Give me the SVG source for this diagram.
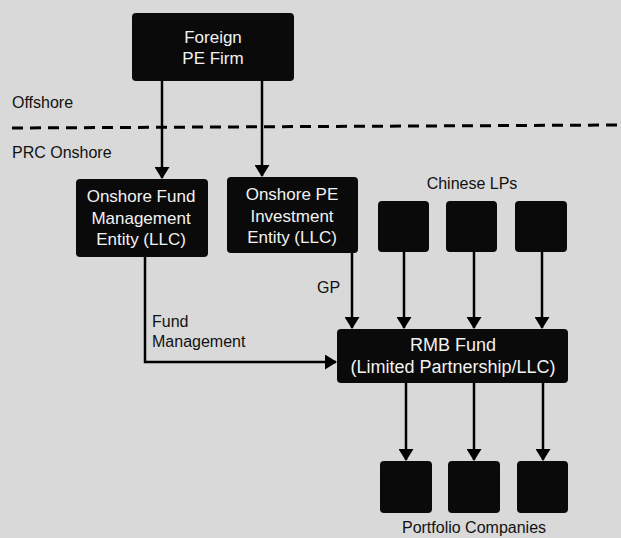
<svg xmlns="http://www.w3.org/2000/svg" width="621" height="538" viewBox="0 0 621 538">
<style>
.box{fill:#0a0a0a;rx:4;ry:4}
.wt{fill:#f2f2f2;font-family:"Liberation Sans",Arial,sans-serif;font-size:17px;text-anchor:middle}
.bt{fill:#111;font-family:"Liberation Sans",Arial,sans-serif;font-size:16px}
.ln{stroke:#000;stroke-width:2.5;fill:none}
</style>
<defs>
<marker id="ah" markerWidth="12" markerHeight="15" refX="11" refY="7.5" orient="auto" markerUnits="userSpaceOnUse">
<path d="M0,0 L12,7.5 L0,15 Z" fill="#000"/>
</marker>
</defs>
<rect width="621" height="538" fill="#d9d9d9"/>
<text class="bt" x="12" y="108">Offshore</text>
<text class="bt" x="12" y="158">PRC Onshore</text>
<line x1="12" y1="128" x2="621" y2="125" stroke="#000" stroke-width="3" stroke-dasharray="11,7"/>
<g id="connectors">
<line class="ln" x1="162" y1="81" x2="162" y2="178" marker-end="url(#ah)"/>
<line class="ln" x1="262" y1="81" x2="262" y2="176" marker-end="url(#ah)"/>
<polyline class="ln" points="145,257 145,362 336,362" marker-end="url(#ah)"/>
<line class="ln" x1="352" y1="253" x2="352" y2="328" marker-end="url(#ah)"/>
<line class="ln" x1="404" y1="252" x2="404" y2="328" marker-end="url(#ah)"/>
<line class="ln" x1="474" y1="252" x2="474" y2="328" marker-end="url(#ah)"/>
<line class="ln" x1="542" y1="252" x2="542" y2="328" marker-end="url(#ah)"/>
<line class="ln" x1="406" y1="383" x2="406" y2="460" marker-end="url(#ah)"/>
<line class="ln" x1="474" y1="383" x2="474" y2="460" marker-end="url(#ah)"/>
<line class="ln" x1="543" y1="383" x2="543" y2="460" marker-end="url(#ah)"/>
<text class="bt" x="152" y="327">Fund</text>
<text class="bt" x="152" y="347">Management</text>
<text class="bt" x="317" y="293">GP</text>
</g>
<g id="foreign">
<rect class="box" x="132" y="13" width="162" height="68"/>
<text class="wt" x="213" y="43">Foreign</text>
<text class="wt" x="213" y="64">PE Firm</text>
</g>
<g id="fundmgmt">
<rect class="box" x="76" y="179" width="132" height="78"/>
<text class="wt" x="141" y="202">Onshore Fund</text>
<text class="wt" x="141" y="224">Management</text>
<text class="wt" x="141" y="245">Entity (LLC)</text>
</g>
<g id="peinvest">
<rect class="box" x="227" y="177" width="131" height="76"/>
<text class="wt" x="292" y="200">Onshore PE</text>
<text class="wt" x="292" y="222">Investment</text>
<text class="wt" x="292" y="243">Entity (LLC)</text>
</g>
<g id="lps">
<text class="bt" x="472" y="189" text-anchor="middle">Chinese LPs</text>
<rect class="box" x="378" y="201" width="51" height="51"/>
<rect class="box" x="446" y="201" width="51" height="51"/>
<rect class="box" x="515" y="201" width="52" height="51"/>
</g>
<g id="rmb">
<rect class="box" x="337" y="329" width="231" height="54"/>
<text class="wt" x="453" y="351" style="font-size:18px">RMB Fund</text>
<text class="wt" x="453" y="373" style="font-size:18px">(Limited Partnership/LLC)</text>
</g>
<g id="portfolio">
<rect class="box" x="380" y="461" width="52" height="52"/>
<rect class="box" x="448" y="461" width="52" height="52"/>
<rect class="box" x="517" y="461" width="51" height="52"/>
<text class="bt" x="474" y="533" text-anchor="middle">Portfolio Companies</text>
</g>
</svg>
